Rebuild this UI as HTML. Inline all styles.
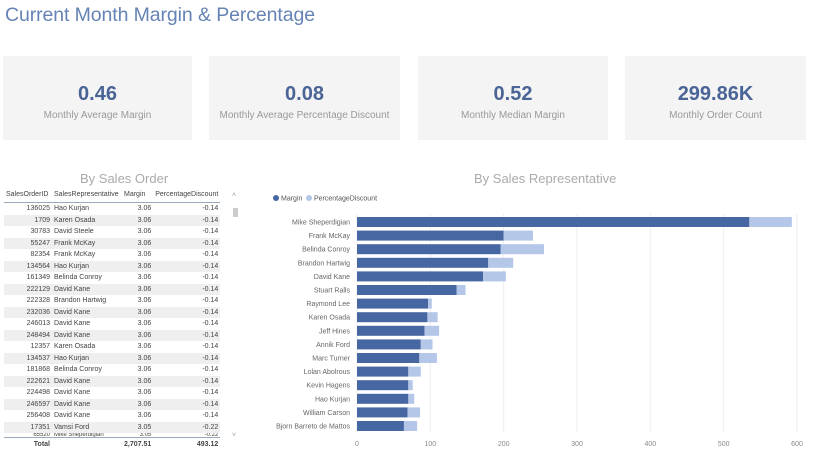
<!DOCTYPE html>
<html><head><meta charset="utf-8"><style>
body{margin:0;width:826px;height:462px;background:#fff;font-family:"Liberation Sans",sans-serif;position:relative;overflow:hidden}
.title{position:absolute;left:5px;top:4px;font-size:19.5px;color:#6583b4;letter-spacing:-0.1px}
.card{position:absolute;top:56px;height:84px;background:#f4f4f4}
.card .v{position:absolute;top:27px;width:100%;text-align:center;font-size:20px;font-weight:bold;color:#4a6496}
.card .lab{position:absolute;top:54px;width:100%;text-align:center;font-size:10px;color:#999}
.sub{position:absolute;font-size:13px;color:#aaa}
table{position:absolute;left:4px;top:186px;border-collapse:collapse;font-size:7px;color:#444}
td,th{padding:0 2px;height:11.5px;line-height:11px;white-space:nowrap;font-weight:normal}
tr.alt td{background:#efefef}
</style></head><body>
<div class="title">Current Month Margin &amp; Percentage</div>
<div class="card" style="left:3px;width:189px"><div class="v">0.46</div><div class="lab">Monthly Average Margin</div></div>
<div class="card" style="left:209px;width:191px"><div class="v">0.08</div><div class="lab">Monthly Average Percentage Discount</div></div>
<div class="card" style="left:418px;width:190px"><div class="v">0.52</div><div class="lab">Monthly Median Margin</div></div>
<div class="card" style="left:625px;width:181px"><div class="v">299.86K</div><div class="lab">Monthly Order Count</div></div>
<div class="sub" style="left:80px;top:171px">By Sales Order</div>
<div class="sub" style="left:474px;top:171px">By Sales Representative</div>
<div id="tbl"></div>
<div style="position:absolute;left:232px;top:192px;width:7px;height:252px">
<div style="position:absolute;top:0;left:0;font-size:7px;color:#999">˄</div>
<div style="position:absolute;top:16px;left:1px;width:5px;height:9px;background:#ccc"></div>
<div style="position:absolute;top:240px;left:0;font-size:7px;color:#999">˅</div></div>
<svg id="chart" width="826" height="462" style="position:absolute;left:0;top:0"></svg>
<script>
const ids=["136025","1709","30783","55247","82354","134564","161349","222129","222328","232036","246013","248494","12357","134537","181868","222621","224498","246597","256408","17351","65520"];
const reps=["Hao Kurjan","Karen Osada","David Steele","Frank McKay","Frank McKay","Hao Kurjan","Belinda Conroy","David Kane","Brandon Hartwig","David Kane","David Kane","David Kane","Karen Osada","Hao Kurjan","Belinda Conroy","David Kane","David Kane","David Kane","David Kane","Vamsi Ford","Mike Sheperdigian"];
const margins=["3.06","3.06","3.06","3.06","3.06","3.06","3.06","3.06","3.06","3.06","3.06","3.06","3.06","3.06","3.06","3.06","3.06","3.06","3.06","3.05","3.05"];
const discs=["-0.14","-0.14","-0.14","-0.14","-0.14","-0.14","-0.14","-0.14","-0.14","-0.14","-0.14","-0.14","-0.14","-0.14","-0.14","-0.14","-0.14","-0.14","-0.14","-0.22","-0.22"];
let h='<table><tr style="border-bottom:1px solid #9ab"><th style="width:44px;text-align:left;height:16px">SalesOrderID</th><th style="width:66px;text-align:left">SalesRepresentative</th><th style="width:25px;text-align:left">Margin</th><th style="width:58px;text-align:right">PercentageDiscount</th></tr>';
ids.forEach((id,i)=>{h+='<tr class="'+(i%2?'alt':'')+'"><td style="text-align:right">'+id+'</td><td>'+reps[i]+'</td><td style="text-align:right">'+margins[i]+'</td><td style="text-align:right">'+discs[i]+'</td></tr>';});
h+='<tr style="border-top:1px solid #9ab;font-weight:bold"><td style="text-align:right;font-weight:bold;height:13px">Total</td><td></td><td style="text-align:right;font-weight:bold">2,707.51</td><td style="text-align:right;font-weight:bold">493.12</td></tr></table>';
document.getElementById('tbl').innerHTML=h;
const rows=document.querySelectorAll('#tbl tr');
rows.forEach(r=>{});
rows[21].querySelectorAll('td').forEach(t=>{t.style.height='4px';t.style.lineHeight='4px';t.style.fontSize='6px';t.style.overflow='hidden';t.style.verticalAlign='top';t.innerHTML='<div style="height:4px;overflow:hidden">'+t.innerHTML+'</div>';});

const names=["Mike Sheperdigian","Frank McKay","Belinda Conroy","Brandon Hartwig","David Kane","Stuart Ralls","Raymond Lee","Karen Osada","Jeff Hines","Annik Ford","Marc Turner","Lolan Abolrous","Kevin Hagens","Hao Kurjan","William Carson","Bjorn Barreto de Mattos"];
const marginVals=[535,200,196,179,172,136,97,96,92,87,85,70,70,70,69,64];
const discountVals=[58,40,59,34,31,12,5,14,20,16,24,17,6,8,17,18];
const ticks=[0,100,200,300,400,500,600];
const NS="http://www.w3.org/2000/svg";
const svg=document.getElementById('chart');
const x=v=>357+v*440/600, y=i=>222+i*13.6;
function el(t,a){const e=document.createElementNS(NS,t);for(const k in a)e.setAttribute(k,a[k]);svg.appendChild(e);return e;}
ticks.forEach(t=>{
 const g=el('line',{x1:x(t),x2:x(t),y1:214,y2:432,stroke:'#eee'});
 
 
 const tx=el('text',{x:x(t),y:446,'font-size':7,fill:'#888','text-anchor':'middle'});tx.textContent=t;
 
 
});
names.forEach((n,i)=>{
 const b1=el('rect',{x:x(0),y:y(i)-5,width:x(marginVals[i])-x(0),height:10,fill:'#4667a2'});
 
 
 const b2=el('rect',{x:x(marginVals[i]),y:y(i)-5,width:x(marginVals[i]+discountVals[i])-x(marginVals[i]),height:10,fill:'#b4c7e9'});
 
 
 const t=el('text',{x:350,y:y(i)+2.5,'font-size':7,fill:'#666','text-anchor':'end'});t.textContent=n;
 
 
});
const c1=el('circle',{cx:276,cy:198,r:3,fill:'#4667a2'});


const l1=el('text',{x:281,y:200.5,'font-size':7,fill:'#555'});l1.textContent='Margin';


const c2=el('circle',{cx:309,cy:198,r:3,fill:'#b4c7e9'});


const l2=el('text',{x:314,y:200.5,'font-size':7,fill:'#555'});l2.textContent='PercentageDiscount';


</script>
</body></html>
